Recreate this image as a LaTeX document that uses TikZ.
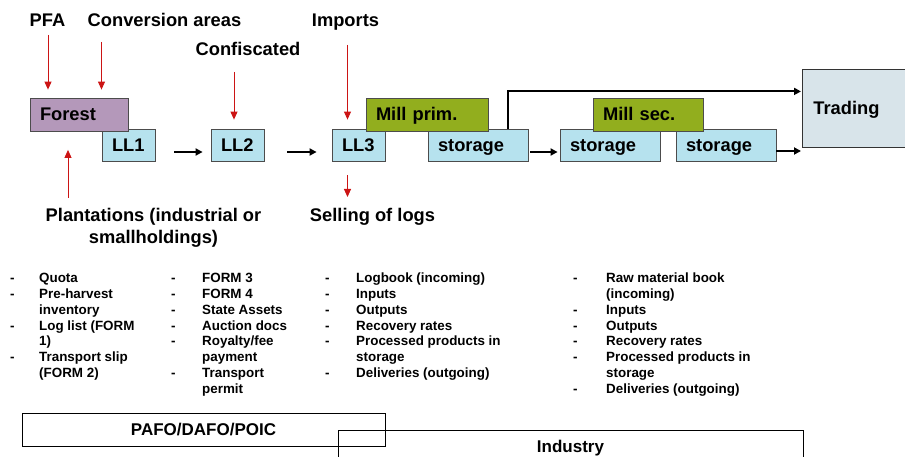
\documentclass[tikz,border=0pt]{standalone}
\usepackage{fontspec}
\setmainfont{Liberation Sans}
\usetikzlibrary{positioning,arrows.meta}
\definecolor{forestc}{RGB}{180,152,186}
\definecolor{logc}{RGB}{182,226,238}
\definecolor{millc}{RGB}{146,174,30}
\definecolor{tradec}{RGB}{216,228,234}
\definecolor{redc}{RGB}{204,20,20}

\begin{document}
\begin{tikzpicture}[x=1pt,y=-1pt,font=\bfseries,
  lbl/.style={inner sep=0pt,font=\fontsize{18.3}{22}\selectfont\bfseries},
  stage/.style={draw=black!70,line width=0.8pt,inner xsep=10pt,inner ysep=0pt,align=left,
    text height=13pt,text depth=0pt,font=\fontsize{18.3}{22}\selectfont\bfseries},
  upper/.style={stage,minimum height=33pt},
  lower/.style={stage,fill=logc,minimum height=32pt},
  redarr/.style={draw=redc,line width=0.9pt,-{Triangle[length=8pt,width=7pt]}},
  flow/.style={line width=1.8pt,-{Triangle[length=7pt,width=7pt]}},
  doclist/.style={inner sep=0pt,anchor=north west,font=\fontsize{13.4}{15.8}\selectfont\bfseries},
  office/.style={draw,line width=0.8pt,font=\fontsize{17}{20}\selectfont\bfseries}]

  \useasboundingbox (0,0) rectangle (905,457);
  \clip (0,0) rectangle (905,457);

  % sources
  \node[lbl,anchor=base] (pfa) at (47.5,27) {PFA};
  \node[lbl,anchor=base] (conv) at (164.5,27) {Conversion areas};
  \node[lbl,anchor=base] (imports) at (345.5,27) {Imports};
  \node[lbl,anchor=base] (conf) at (248,56) {Confiscated};
  \node[lbl,align=center] (plant) at (153.5,228) {Plantations (industrial or\\smallholdings)};
  \node[lbl,anchor=base] (selling) at (372.5,221.5) {Selling of logs};

  % chain
  \node[lower,text width=33pt] (ll1) at (128.5,145) {LL1};
  \node[lower,text width=33pt] (ll2) at (237.5,145) {LL2};
  \node[lower,text width=33pt] (ll3) at (358.5,145) {LL3};
  \node[lower,text width=80pt] (st1) at (478,145) {storage};
  \node[lower,text width=80pt] (st2) at (610,145) {storage};
  \node[lower,text width=80pt] (st3) at (726,145) {storage};
  \node[upper,fill=forestc,text width=78pt] (forest) at (79,114.5) {Forest};
  \node[upper,fill=millc,text width=102pt] (millprim) at (427,114.5) {Mill prim.};
  \node[upper,fill=millc,text width=90pt] (millsec) at (648,114.5) {Mill sec.};
  \node[stage,fill=tradec,draw=black!80,anchor=north west,text width=88pt,inner xsep=11pt,minimum height=78pt] (trading) at (802,69) {Trading};

  % red inputs
  \coordinate (pfatail) at (48,35);
  \coordinate (convtail) at (101.5,42);
  \coordinate (conftail) at (234,72);
  \coordinate (imptail) at (347.5,45);
  \coordinate (planttail) at (68,198);
  \coordinate (selltip) at (347.5,197);
  \draw[redarr,shorten >=8pt] (pfatail) -- (pfatail |- forest.north);
  \draw[redarr,shorten >=8pt] (convtail) -- (convtail |- forest.north);
  \draw[redarr,shorten >=9pt] (conftail) -- (conftail |- ll2.north);
  \draw[redarr,shorten >=9pt] (imptail) -- (imptail |- ll3.north);
  \draw[redarr,shorten >=18.5pt] (planttail) -- (planttail |- forest.south);
  \draw[redarr,shorten <=14pt] (selltip |- ll3.south) -- (selltip);

  % flow
  \coordinate (st1up) at ([xshift=30pt]st1.north);
  \coordinate (tradein) at ([yshift=17pt]trading.west);
  \coordinate (st3out) at ([yshift=-6pt]st3.east);
  \draw[flow,shorten <=19pt,shorten >=8pt] ([yshift=-7pt]ll1.east) -- ([yshift=-7pt]ll2.west);
  \draw[flow,shorten <=23pt,shorten >=15pt] ([yshift=-7pt]ll2.east) -- ([yshift=-7pt]ll3.west);
  \draw[flow,shorten <=2pt,shorten >=2pt] ([yshift=-7pt]st1.east) -- ([yshift=-7pt]st2.west);
  \draw[flow,shorten >=1pt] (st3out) -- (st3out -| trading.west);
  \draw[flow,shorten >=1pt] (st1up) |- (tradein);

  % documents
  \node[doclist] (docs1) at (10,271.5) {\begin{tabular}{@{}p{29pt}@{}l@{}}
    - & Quota\\ - & Pre-harvest\\ & inventory\\ - & Log list (FORM\\ & 1)\\ - & Transport slip\\ & (FORM 2)
  \end{tabular}};
  \node[doclist] (docs2) at (171,271.5) {\begin{tabular}{@{}p{31pt}@{}l@{}}
    - & FORM 3\\ - & FORM 4\\ - & State Assets\\ - & Auction docs\\ - & Royalty/fee\\ & payment\\ - & Transport\\ & permit
  \end{tabular}};
  \node[doclist] (docs3) at (325,271.5) {\begin{tabular}{@{}p{31pt}@{}l@{}}
    - & Logbook (incoming)\\ - & Inputs\\ - & Outputs\\ - & Recovery rates\\ - & Processed products in\\ & storage\\ - & Deliveries (outgoing)
  \end{tabular}};
  \node[doclist] (docs4) at (573,271.5) {\begin{tabular}{@{}p{33pt}@{}l@{}}
    - & Raw material book\\ & (incoming)\\ - & Inputs\\ - & Outputs\\ - & Recovery rates\\ - & Processed products in\\ & storage\\ - & Deliveries (outgoing)
  \end{tabular}};

  % offices
  \node[office,minimum width=363pt,minimum height=33pt] (pafo) at (203.5,430) {PAFO/DAFO/POIC};
  \node[office,minimum width=465pt,minimum height=36pt] (industry) at (570.5,448) {Industry};
\end{tikzpicture}
\end{document}
